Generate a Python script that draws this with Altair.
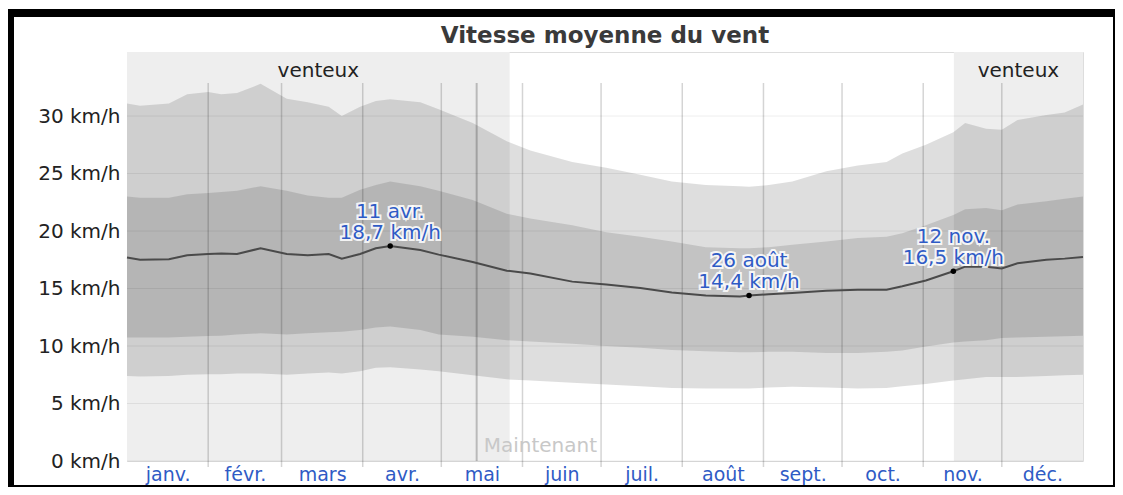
import json
import altair as alt
import pandas as pd

# ---------------- data ----------------
days = [0, 5, 16, 23, 31, 36, 42, 51, 61, 69, 77, 82, 89, 95, 100.5, 112, 119, 132, 145, 154,
        170, 183, 196, 208, 221, 234, 237.5, 245, 254, 267, 279, 290, 296, 305, 315.5, 320,
        328, 334, 340, 351, 358, 365]
p90 = [31.1, 30.9, 31.1, 31.9, 32.1, 31.9, 32.0, 32.8, 31.5, 31.2, 30.8, 30.0, 30.8, 31.3, 31.45,
       31.2, 30.6, 29.4, 27.8, 27.0, 26.0, 25.5, 24.9, 24.3, 24.0, 23.9, 23.85, 24.0, 24.3, 25.2,
       25.7, 26.0, 26.75, 27.5, 28.6, 29.4, 28.9, 28.8, 29.65, 30.1, 30.3, 31.0]
p75 = [23.0, 22.9, 22.9, 23.2, 23.3, 23.4, 23.5, 23.9, 23.5, 23.1, 22.9, 22.9, 23.6, 24.0, 24.3,
       23.9, 23.5, 22.7, 21.5, 21.1, 20.5, 19.9, 19.5, 19.1, 18.6, 18.5, 18.5, 18.6, 18.8, 19.1,
       19.4, 19.5, 19.8, 20.5, 21.4, 21.9, 22.0, 21.8, 22.3, 22.6, 22.8, 23.0]
median = [17.7, 17.5, 17.55, 17.9, 18.0, 18.05, 18.0, 18.5, 18.0, 17.9, 18.0, 17.6, 18.0, 18.5, 18.7,
          18.35, 17.95, 17.3, 16.55, 16.3, 15.6, 15.35, 15.05, 14.65, 14.4, 14.3, 14.4, 14.5, 14.6,
          14.8, 14.9, 14.9, 15.2, 15.7, 16.5, 16.9, 16.9, 16.75, 17.2, 17.5, 17.6, 17.75]
p25 = [10.75, 10.75, 10.75, 10.8, 10.87, 10.9, 11.0, 11.1, 11.0, 11.1, 11.2, 11.25, 11.4, 11.6, 11.7,
       11.4, 11.0, 10.8, 10.5, 10.4, 10.2, 10.0, 9.85, 9.65, 9.55, 9.45, 9.45, 9.5, 9.5, 9.4,
       9.4, 9.5, 9.6, 9.95, 10.3, 10.4, 10.5, 10.7, 10.75, 10.8, 10.85, 10.9]
p10 = [7.4, 7.35, 7.4, 7.5, 7.55, 7.55, 7.6, 7.6, 7.5, 7.6, 7.7, 7.6, 7.8, 8.1, 8.15,
       7.95, 7.8, 7.45, 7.1, 7.0, 6.8, 6.65, 6.5, 6.35, 6.3, 6.3, 6.3, 6.4, 6.45, 6.4,
       6.3, 6.35, 6.5, 6.7, 7.0, 7.1, 7.3, 7.3, 7.3, 7.4, 7.45, 7.5]

months = ["janv.", "févr.", "mars", "avr.", "mai", "juin",
          "juil.", "août", "sept.", "oct.", "nov.", "déc."]
month_ends = [31, 59, 90, 120, 151, 181, 212, 243, 273, 304, 334, 365]
y_ticks = [0, 5, 10, 15, 20, 25, 30]

windy_start = [0, 315.7]
windy_end = [146.1, 365]
windy_label = ["venteux", "venteux"]

now_day = [133.5]
now_label = ["Maintenant"]

ann_days = [100.5, 237.5, 315.5]
ann_vals = [18.7, 14.4, 16.5]
ann_dates = ["11 avr.", "26 août", "12 nov."]
ann_speeds = ["18,7 km/h", "14,4 km/h", "16,5 km/h"]

title_text = ["Vitesse moyenne du vent"]

# ---------------- tables ----------------
month_starts = [0] + month_ends[:-1]
month_mids = [(a + b) / 2 for a, b in zip(month_starts, month_ends)]

df = pd.DataFrame({"day": days, "p10": p10, "p25": p25, "median": median, "p75": p75, "p90": p90})
windy_df = pd.DataFrame({"start": windy_start, "end": windy_end, "label": windy_label})
windy_df["mid"] = (windy_df["start"] + windy_df["end"]) / 2
ends_df = pd.DataFrame({"day": month_ends[:-1]})
grid_df = pd.DataFrame({"v": y_ticks})
now_df = pd.DataFrame({"day": now_day, "label": now_label})
ann_df = pd.DataFrame({"day": ann_days, "v": ann_vals, "date": ann_dates, "speed": ann_speeds})
title_df = pd.DataFrame({"t": title_text})

FONT = "DejaVu Sans"
BLUE = "#2f5bc5"
W, H = 956, 409
PL, PT, PR, PB = 119, 44, 32, 26

xs = alt.Scale(domain=[0, 365], nice=False, zero=False)
ys = alt.Scale(domain=[0, 35.57], nice=False)

xaxis = alt.Axis(
    values=month_mids,
    labelExpr=f"{json.dumps(months, ensure_ascii=False)}[indexof({json.dumps(month_mids)}, datum.value)]",
    grid=False, domain=False, ticks=False, title=None,
    labelFont=FONT, labelFontSize=19, labelColor=BLUE, labelPadding=4,
)
yaxis = alt.Axis(
    values=y_ticks, labelExpr="datum.value + ' km/h'",
    grid=False, domain=False, ticks=False, title=None,
    labelFont=FONT, labelFontSize=20, labelColor="#222222", labelPadding=7,
)


def X(field):
    return alt.X(f"{field}:Q", scale=xs, axis=xaxis)


def Y(field):
    return alt.Y(f"{field}:Q", scale=ys, axis=yaxis)


windy = alt.Chart(windy_df).mark_rect(color="#eeeeee").encode(x=X("start"), x2="end:Q")

outer = alt.Chart(df).mark_area(color="black", opacity=0.13).encode(x=X("day"), y=Y("p10"), y2="p90:Q")
inner = alt.Chart(df).mark_area(color="black", opacity=0.12).encode(x=X("day"), y=Y("p25"), y2="p75:Q")

hgrid = alt.Chart(grid_df).mark_rule(color="black", opacity=0.07, strokeWidth=1).encode(y=Y("v"))

mrules = alt.Chart(ends_df).mark_rule(color="black", opacity=0.17, strokeWidth=1.5).encode(
    x=X("day"), y=alt.value(31), y2=alt.value(415))

nowrule = alt.Chart(now_df).mark_rule(color="black", opacity=0.22, strokeWidth=2).encode(
    x=X("day"), y=alt.value(31), y2=alt.value(H))

line = alt.Chart(df).mark_line(color="#4a4a4a", strokeWidth=2).encode(x=X("day"), y=Y("median"))

points = alt.Chart(ann_df).mark_circle(color="black", size=30, opacity=1).encode(x=X("day"), y=Y("v"))


def ann_text(field, dy, halo):
    kw = dict(font=FONT, fontSize=20, baseline="alphabetic", align="center", dy=dy)
    if halo:
        mk = alt.Chart(ann_df).mark_text(color="white", stroke="white", strokeWidth=4,
                                         strokeOpacity=0.85, **kw)
    else:
        mk = alt.Chart(ann_df).mark_text(color=BLUE, **kw)
    return mk.encode(x=X("day"), y=Y("v"), text=f"{field}:N")


ann_layers = [ann_text("date", -28, True), ann_text("speed", -7, True),
              ann_text("date", -28, False), ann_text("speed", -7, False)]

venteux = alt.Chart(windy_df).mark_text(font=FONT, fontSize=20, color="#222222",
                                        baseline="alphabetic", align="center").encode(
    x=X("mid"), y=alt.value(25), text="label:N")

maint = alt.Chart(now_df).mark_text(font=FONT, fontSize=20, color="#c8c8c8",
                                    baseline="alphabetic", align="left", dx=7).encode(
    x=X("day"), y=alt.value(400), text="label:N")

title = alt.Chart(title_df).mark_text(font=FONT, fontSize=23, fontWeight="bold", color="#3a3a3a",
                                      baseline="alphabetic", align="center").encode(
    x=alt.value(W / 2), y=alt.value(-9), text="t:N")

# black frame of the screenshot
frame_src = pd.DataFrame({"k": [0]})
frame = [
    alt.Chart(frame_src).mark_rect(color="black").encode(
        x=alt.value(-PL), x2=alt.value(W + PR), y=alt.value(-PT + 1), y2=alt.value(-PT + 9)),
    alt.Chart(frame_src).mark_rect(color="black").encode(
        x=alt.value(-PL), x2=alt.value(-PL + 6), y=alt.value(-PT + 1), y2=alt.value(H + PB)),
    alt.Chart(frame_src).mark_rect(color="black").encode(
        x=alt.value(W + PR - 2), x2=alt.value(W + PR), y=alt.value(-PT + 1), y2=alt.value(H + PB)),
    alt.Chart(frame_src).mark_rect(color="black").encode(
        x=alt.value(-PL), x2=alt.value(W + PR), y=alt.value(H + PB - 2), y2=alt.value(H + PB)),
]

chart = alt.layer(
    windy, outer, inner, hgrid, mrules, nowrule, line, points, *ann_layers, venteux, maint, title,
    *frame
).properties(
    width=W, height=H,
    autosize=alt.AutoSizeParams(type="none"),
    padding={"left": PL, "top": PT, "right": PR, "bottom": PB},
).configure_view(stroke=None).configure(background="white")

chart.save("out.html", embed_options={"renderer": "svg", "actions": False})
